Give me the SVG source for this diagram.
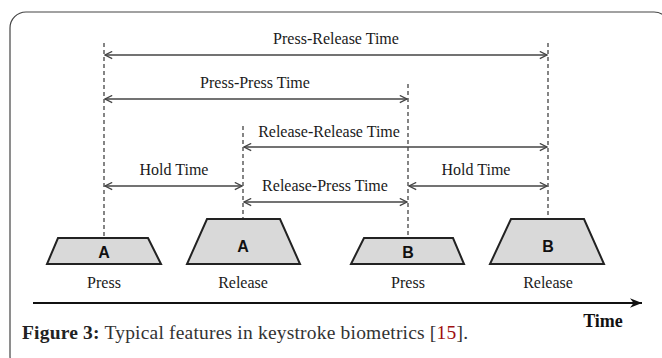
<svg xmlns="http://www.w3.org/2000/svg" width="662" height="358" viewBox="0 0 662 358">
<style>
.lbl{font-family:"Liberation Serif","Times New Roman",serif;font-size:16px;fill:#1a1a1a;text-anchor:middle}
.key{font-family:"Liberation Sans",Arial,sans-serif;font-size:16px;font-weight:bold;fill:#111;text-anchor:middle}
.trap{fill:#d9d9d9;stroke:#222;stroke-width:2;stroke-linejoin:miter}
.dash{stroke:#444;stroke-width:1.3;stroke-dasharray:4 3;fill:none}
.dim{stroke:#444;stroke-width:1.3;fill:none;marker-start:url(#chev);marker-end:url(#chev)}
</style>
<defs>
<marker id="chev" viewBox="0 0 10 10" refX="9" refY="5" markerWidth="9" markerHeight="9" markerUnits="userSpaceOnUse" orient="auto-start-reverse">
<path d="M1,1 L9,5 L1,9" fill="none" stroke="#444" stroke-width="1.4"/>
</marker>
<marker id="solid" viewBox="0 0 10 10" refX="10" refY="5" markerWidth="12" markerHeight="12" markerUnits="userSpaceOnUse" orient="auto">
<path d="M0,1 L10,5 L0,9 L3,5 Z" fill="#111"/>
</marker>
</defs>
<rect x="10" y="12" width="660" height="360" rx="16" ry="16" fill="#fff" stroke="#444" stroke-width="1.2"/>
<g id="connectors">
<line class="dash" x1="104" y1="43" x2="104" y2="238"/>
<line class="dash" x1="243" y1="126" x2="243" y2="219"/>
<line class="dash" x1="408" y1="84" x2="408" y2="238"/>
<line class="dash" x1="548" y1="43" x2="548" y2="219"/>
<line class="dim" x1="105" y1="55" x2="547" y2="55"/>
<line class="dim" x1="105" y1="99" x2="407" y2="99"/>
<line class="dim" x1="244" y1="147" x2="547" y2="147"/>
<line class="dim" x1="105" y1="186" x2="242" y2="186"/>
<line class="dim" x1="244" y1="202" x2="407" y2="202"/>
<line class="dim" x1="409" y1="186" x2="547" y2="186"/>
<line x1="33" y1="303" x2="642" y2="303" stroke="#111" stroke-width="2.2" marker-end="url(#solid)"/>
</g>
<g id="labels">
<text class="lbl" x="336" y="44">Press-Release Time</text>
<text class="lbl" x="255" y="88">Press-Press Time</text>
<text class="lbl" x="329" y="137">Release-Release Time</text>
<text class="lbl" x="174" y="175">Hold Time</text>
<text class="lbl" x="325" y="191">Release-Press Time</text>
<text class="lbl" x="476" y="175">Hold Time</text>
</g>
<g id="keyA-press">
<polygon class="trap" points="58,238 148,238 161,264 47,264"/>
<text class="key" x="104" y="258">A</text>
<text class="lbl" x="104" y="288">Press</text>
</g>
<g id="keyA-release">
<polygon class="trap" points="207,219 280,219 300,264 187,264"/>
<text class="key" x="243" y="252">A</text>
<text class="lbl" x="243" y="288">Release</text>
</g>
<g id="keyB-press">
<polygon class="trap" points="364,238 453,238 464,264 351,264"/>
<text class="key" x="408" y="258">B</text>
<text class="lbl" x="408" y="288">Press</text>
</g>
<g id="keyB-release">
<polygon class="trap" points="511,219 584,219 604,264 490,264"/>
<text class="key" x="548" y="252">B</text>
<text class="lbl" x="548" y="288">Release</text>
</g>
<text x="603" y="327" font-family="Liberation Serif, serif" font-size="18" font-weight="bold" fill="#111" text-anchor="middle">Time</text>
<text x="22" y="339" font-family="Liberation Serif, serif" font-size="19.5" fill="#333" textLength="446" lengthAdjust="spacing"><tspan font-weight="bold" fill="#222">Figure 3:</tspan> Typical features in keystroke biometrics [<tspan fill="#a01010">15</tspan>].</text>
</svg>
